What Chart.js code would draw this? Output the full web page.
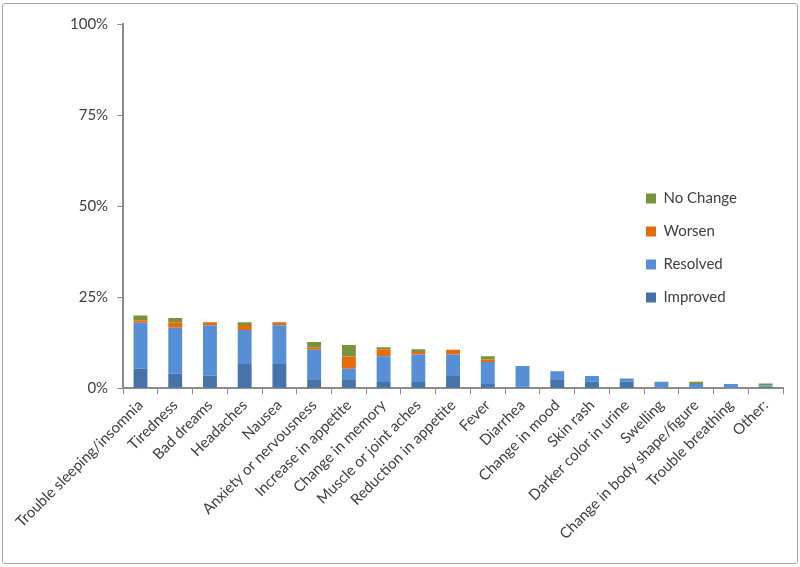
<!DOCTYPE html>
<html>
<head>
<meta charset="utf-8">
<script src="https://cdn.jsdelivr.net/npm/chart.js@4.4.1/dist/chart.umd.min.js"></script>
<style>
    body { margin: 0; background: #fff; }
    #wrap { position: absolute; left: 2px; top: 3px; width: 794px; height: 559px; border: 1px solid #a6a6a6; border-radius: 3px; }
    canvas { display: block; }
</style>
</head>
<body>
<div id="wrap"><canvas id="symptomChart" width="794" height="559"></canvas></div>
<script>
const symptoms = ['Trouble sleeping/insomnia', 'Tiredness', 'Bad dreams', 'Headaches', 'Nausea',
    'Anxiety or nervousness', 'Increase in appetite', 'Change in memory', 'Muscle or joint aches',
    'Reduction in appetite', 'Fever', 'Diarrhea', 'Change in mood', 'Skin rash',
    'Darker color in urine', 'Swelling', 'Change in body shape/figure', 'Trouble breathing', 'Other:'];

// percent of respondents
const improved = [5.4, 4.0, 3.5, 6.7, 6.7, 2.5, 2.5, 1.7, 1.7, 3.4, 1.2, 0.5, 2.5, 1.8, 1.8, 0, 0, 0, 0.5];
const resolved = [12.6, 12.6, 13.8, 9.3, 10.6, 8.1, 2.9, 7.1, 7.6, 5.9, 6.0, 5.6, 2.2, 1.6, 0.9, 1.8, 1.2, 1.2, 0.3];
const worsen = [0.7, 1.5, 0.8, 1.4, 0.8, 0.7, 3.3, 1.9, 0.7, 1.3, 0.7, 0, 0, 0, 0, 0, 0, 0, 0];
const noChange = [1.3, 1.2, 0, 0.7, 0, 1.4, 3.2, 0.6, 0.7, 0, 0.9, 0, 0, 0, 0, 0, 0.6, 0, 0.5];

const yTicks = [0, 25, 50, 75, 100];

const fontFamily = 'Lato, "Liberation Sans", sans-serif';
const axisColor = '#8c8c8c';
const textColor = '#404040';

// keep the legend inside the plot, on the right, like the original
const legendMover = {
    id: 'legendMover',
    afterLayout(chart) {
        const lg = chart.legend;
        const w = lg.width;
        lg.left = 625;
        lg.right = lg.left + w;
        lg.top = 169;
        lg.bottom = 320;
    }
};

const ctx = document.getElementById('symptomChart').getContext('2d');

const symptomChart = new Chart(ctx, {
    type: 'bar',
    data: {
        labels: symptoms,
        datasets: [
            { label: 'Improved', data: improved, backgroundColor: '#4674aa' },
            { label: 'Resolved', data: resolved, backgroundColor: '#568fd6' },
            { label: 'Worsen', data: worsen, backgroundColor: '#e46c0a' },
            { label: 'No Change', data: noChange, backgroundColor: '#77933c' }
        ]
    },
    options: {
        responsive: false,
        animation: false,
        datasets: {
            bar: { categoryPercentage: 1, barPercentage: 0.4 }
        },
        layout: {
            autoPadding: false,
            padding: { top: 20, right: 14, bottom: 18, left: 58 }
        },
        plugins: {
            legend: {
                position: 'chartArea',
                align: 'start',
                reverse: true,
                labels: {
                    boxWidth: 10,
                    boxHeight: 10,
                    padding: 18,
                    color: textColor,
                    font: { family: fontFamily, size: 15 }
                }
            },
            tooltip: { enabled: false }
        },
        scales: {
            x: {
                stacked: true,
                grid: { offset: true, drawOnChartArea: false, tickLength: 6, color: axisColor, lineWidth: 1 },
                border: { color: axisColor, width: 2 },
                ticks: {
                    autoSkip: false,
                    minRotation: 45,
                    maxRotation: 45,
                    padding: 2,
                    color: textColor,
                    font: { family: fontFamily, size: 15 }
                }
            },
            y: {
                stacked: true,
                min: 0,
                max: 100,
                afterBuildTicks: (axis) => { axis.ticks = yTicks.map(v => ({ value: v })); },
                grid: { drawOnChartArea: false, tickLength: 6, color: axisColor },
                border: { color: axisColor, width: 2 },
                ticks: {
                    padding: 9,
                    color: textColor,
                    font: { family: fontFamily, size: 15 },
                    callback: (v) => v + '%'
                }
            }
        }
    },
    plugins: [legendMover]
});
</script>
</body>
</html>
